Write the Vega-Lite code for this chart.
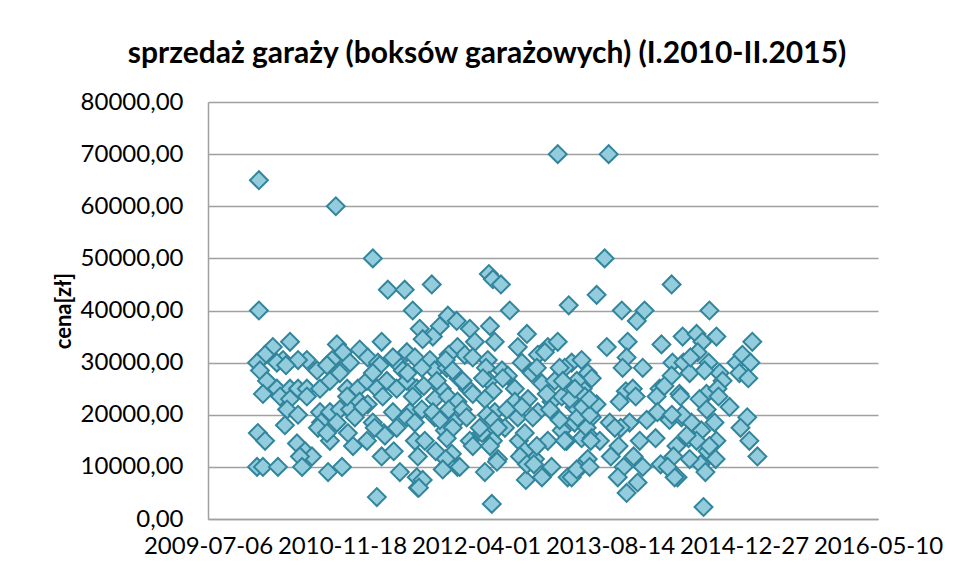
{
"$schema": "https://vega.github.io/schema/vega-lite/v6.json",
"width": 670,
"height": 417,
"autosize": {"type": "none"},
"padding": {"left": 208, "top": 102, "right": 79, "bottom": 60},
"background": "white",
"title": {"text": "sprzedaż garaży (boksów garażowych)  (I.2010-II.2015)", "font": "Lato", "fontSize": 30, "fontWeight": "bold", "color": "#000000", "anchor": "middle", "frame": "group", "dx": -56, "offset": 21},
"config": {"view": {"stroke": null}},
"data": {"values": [
{"data":"2010-01-12","cena":65000},{"data":"2010-10-26","cena":60000},{"data":"2011-03-13","cena":50000},{"data":"2013-01-31","cena":70000},{"data":"2013-08-09","cena":70000},{"data":"2013-07-25","cena":50000},{"data":"2011-05-08","cena":44000},{"data":"2011-07-10","cena":44000},{"data":"2011-10-19","cena":45000},{"data":"2012-05-19","cena":47000},{"data":"2012-06-03","cena":46000},{"data":"2012-07-03","cena":45000},{"data":"2014-04-01","cena":45000},{"data":"2013-06-25","cena":43000},
{"data":"2010-01-12","cena":40000},{"data":"2011-08-09","cena":40000},{"data":"2010-05-08","cena":34000},{"data":"2010-03-05","cena":33000},{"data":"2010-02-04","cena":31500},{"data":"2010-01-05","cena":30000},{"data":"2010-10-30","cena":33500},{"data":"2010-11-22","cena":32000},{"data":"2011-01-23","cena":32500},{"data":"2011-04-15","cena":34000},{"data":"2011-07-18","cena":32000},{"data":"2011-08-17","cena":31000},{"data":"2011-09-04","cena":36500},{"data":"2010-10-04","cena":30000},{"data":"2010-08-17","cena":28500},{"data":"2010-07-10","cena":30500},{"data":"2010-04-12","cena":30500},{"data":"2010-06-07","cena":30500},{"data":"2011-02-22","cena":31000},{"data":"2011-04-01","cena":30000},{"data":"2011-06-10","cena":30000},{"data":"2011-07-03","cena":28500},{"data":"2010-01-16","cena":28500},{"data":"2010-02-11","cena":26500},{"data":"2010-03-20","cena":25000},{"data":"2010-05-08","cena":25000},{"data":"2010-06-07","cena":25000},{"data":"2010-07-10","cena":25000},{"data":"2010-08-28","cena":25000},{"data":"2010-10-04","cena":26500},{"data":"2010-11-10","cena":28000},{"data":"2010-12-07","cena":25000},{"data":"2011-01-16","cena":25000},{"data":"2011-02-19","cena":26500},{"data":"2011-03-28","cena":25000},{"data":"2011-05-04","cena":26500},{"data":"2011-06-10","cena":25000},{"data":"2011-07-18","cena":26500},{"data":"2011-08-24","cena":25000},{"data":"2010-03-20","cena":30000},{"data":"2010-04-23","cena":29500},{"data":"2010-10-12","cena":30500},{"data":"2010-09-23","cena":29500},{"data":"2011-04-08","cena":29500},{"data":"2011-03-13","cena":28000},{"data":"2011-05-27","cena":31000},{"data":"2010-12-18","cena":30000},
{"data":"2010-01-27","cena":24000},{"data":"2010-04-01","cena":23500},{"data":"2010-05-08","cena":23000},{"data":"2010-07-10","cena":23500},{"data":"2010-04-27","cena":21000},{"data":"2010-06-07","cena":20000},{"data":"2010-04-19","cena":18000},{"data":"2010-01-08","cena":16500},{"data":"2010-02-04","cena":15000},{"data":"2010-06-03","cena":14500},{"data":"2010-07-03","cena":13000},{"data":"2010-07-29","cena":12000},{"data":"2010-06-14","cena":12000},{"data":"2010-06-22","cena":10000},{"data":"2010-01-05","cena":10000},{"data":"2010-01-27","cena":10000},{"data":"2010-03-24","cena":10000},{"data":"2010-09-27","cena":9000},{"data":"2010-11-18","cena":10000},{"data":"2010-08-28","cena":20500},{"data":"2010-09-01","cena":18500},{"data":"2010-10-04","cena":20500},{"data":"2010-11-10","cena":21000},{"data":"2010-10-30","cena":18500},{"data":"2010-10-04","cena":15000},{"data":"2010-12-29","cena":14000},{"data":"2010-12-18","cena":21000},{"data":"2010-12-07","cena":23500},{"data":"2011-01-23","cena":22500},{"data":"2011-02-22","cena":22000},{"data":"2011-03-13","cena":18500},{"data":"2011-02-19","cena":15000},{"data":"2011-04-19","cena":23500},{"data":"2011-04-23","cena":16500},{"data":"2011-05-27","cena":20500},{"data":"2011-06-10","cena":17500},{"data":"2011-04-15","cena":12000},{"data":"2011-05-30","cena":13000},{"data":"2011-06-22","cena":9000},{"data":"2011-03-28","cena":4200},{"data":"2011-07-29","cena":20500},{"data":"2011-08-09","cena":23500},{"data":"2011-08-17","cena":15000},{"data":"2011-08-24","cena":8000},{"data":"2011-08-28","cena":6000},{"data":"2010-08-20","cena":17500},{"data":"2010-09-23","cena":16500},{"data":"2011-01-05","cena":19500},{"data":"2010-12-10","cena":16500},{"data":"2011-02-04","cena":21500},{"data":"2011-03-20","cena":17500},{"data":"2011-04-27","cena":16000},{"data":"2011-07-18","cena":19500},
{"data":"2012-08-05","cena":40000},{"data":"2013-03-13","cena":41000},{"data":"2011-12-18","cena":39000},{"data":"2012-01-20","cena":38000},{"data":"2011-11-18","cena":37000},{"data":"2011-10-23","cena":35000},{"data":"2011-09-15","cena":34500},{"data":"2012-03-09","cena":36500},{"data":"2012-05-23","cena":37000},{"data":"2012-06-10","cena":34000},{"data":"2012-03-28","cena":34000},{"data":"2012-01-23","cena":33000},{"data":"2012-02-19","cena":31500},{"data":"2011-12-21","cena":31500},{"data":"2011-10-12","cena":30500},{"data":"2012-03-20","cena":31000},{"data":"2012-05-15","cena":30500},{"data":"2012-10-08","cena":35500},{"data":"2012-09-04","cena":33000},{"data":"2012-12-25","cena":33000},{"data":"2013-01-31","cena":34000},{"data":"2012-11-18","cena":31500},{"data":"2012-12-14","cena":32000},{"data":"2012-09-19","cena":30000},{"data":"2012-10-26","cena":28000},{"data":"2013-03-24","cena":30000},{"data":"2013-04-30","cena":30500},{"data":"2013-02-26","cena":29000},{"data":"2013-05-23","cena":28000},{"data":"2011-10-30","cena":28500},{"data":"2011-12-14","cena":29000},{"data":"2012-01-27","cena":27000},{"data":"2012-05-08","cena":29000},{"data":"2012-07-07","cena":28500},{"data":"2012-07-29","cena":27500},{"data":"2012-12-03","cena":26000},{"data":"2013-01-20","cena":26500},{"data":"2013-05-04","cena":25000},{"data":"2011-09-19","cena":25500},{"data":"2011-11-25","cena":25000},{"data":"2012-03-02","cena":25000},{"data":"2012-05-19","cena":26500},{"data":"2012-08-24","cena":25000},{"data":"2013-06-07","cena":27000},{"data":"2011-11-07","cena":26500},{"data":"2012-02-11","cena":26500},{"data":"2012-03-13","cena":24500},{"data":"2012-04-27","cena":27000},{"data":"2012-06-03","cena":24500},{"data":"2012-07-10","cena":27000},{"data":"2012-11-14","cena":29000},{"data":"2013-02-07","cena":29000},{"data":"2013-04-12","cena":26500},{"data":"2011-12-10","cena":30500},{"data":"2012-01-05","cena":28500},{"data":"2011-09-12","cena":29000},{"data":"2011-07-21","cena":28000},
{"data":"2011-10-30","cena":23000},{"data":"2011-12-18","cena":23500},{"data":"2012-01-23","cena":22500},{"data":"2012-03-20","cena":24000},{"data":"2012-05-04","cena":23000},{"data":"2012-06-10","cena":20500},{"data":"2012-08-24","cena":22500},{"data":"2012-10-12","cena":23000},{"data":"2012-11-18","cena":20500},{"data":"2013-01-08","cena":22500},{"data":"2013-02-15","cena":23500},{"data":"2013-04-04","cena":21500},{"data":"2013-05-12","cena":23500},{"data":"2013-06-07","cena":19500},{"data":"2011-09-12","cena":21000},{"data":"2011-08-17","cena":18500},{"data":"2011-10-30","cena":19500},{"data":"2011-12-07","cena":17000},{"data":"2012-01-12","cena":18500},{"data":"2012-03-09","cena":15000},{"data":"2011-09-23","cena":15000},{"data":"2011-11-03","cena":13000},{"data":"2011-08-28","cena":12000},{"data":"2012-01-02","cena":12500},{"data":"2012-01-23","cena":10000},{"data":"2011-12-18","cena":10500},{"data":"2011-09-15","cena":7500},{"data":"2011-09-01","cena":6000},{"data":"2012-05-04","cena":9000},{"data":"2012-06-22","cena":11500},{"data":"2012-06-03","cena":15000},{"data":"2012-04-23","cena":16500},{"data":"2012-07-18","cena":17500},{"data":"2012-09-04","cena":19500},{"data":"2012-09-08","cena":15000},{"data":"2012-09-30","cena":13000},{"data":"2012-11-07","cena":11500},{"data":"2012-10-04","cena":7500},{"data":"2012-12-03","cena":8000},{"data":"2013-01-08","cena":10000},{"data":"2012-12-25","cena":15000},{"data":"2013-02-15","cena":17000},{"data":"2013-04-04","cena":18500},{"data":"2013-04-30","cena":15500},{"data":"2013-03-09","cena":8000},{"data":"2013-04-27","cena":10000},{"data":"2013-05-23","cena":11500},{"data":"2012-05-30","cena":2900},{"data":"2011-10-23","cena":20500},{"data":"2011-11-18","cena":19000},{"data":"2011-12-21","cena":21000},{"data":"2012-01-05","cena":17500},{"data":"2011-12-14","cena":15500},{"data":"2011-12-10","cena":11500},{"data":"2011-11-29","cena":9500},{"data":"2012-01-31","cena":10000},{"data":"2012-02-11","cena":21000},{"data":"2012-02-26","cena":19500},{"data":"2012-03-20","cena":14000},{"data":"2012-04-15","cena":17500},{"data":"2012-05-12","cena":20000},{"data":"2012-06-03","cena":19000},{"data":"2012-06-22","cena":17500},{"data":"2012-05-23","cena":14000},{"data":"2012-06-18","cena":11000},{"data":"2012-07-25","cena":21000},{"data":"2012-09-19","cena":21500},{"data":"2012-09-30","cena":16500},{"data":"2012-09-12","cena":12000},{"data":"2012-10-08","cena":10500},{"data":"2012-10-30","cena":19500},{"data":"2012-11-14","cena":14000},{"data":"2012-11-03","cena":10500},{"data":"2012-12-21","cena":24000},{"data":"2013-01-02","cena":21000},{"data":"2013-02-07","cena":19000},{"data":"2013-03-05","cena":15000},{"data":"2013-03-24","cena":8000},{"data":"2013-04-12","cena":9500},{"data":"2013-04-15","cena":19500},{"data":"2013-05-04","cena":21500},{"data":"2013-05-19","cena":17500},{"data":"2013-06-07","cena":15500},
{"data":"2013-09-27","cena":40000},{"data":"2013-12-21","cena":40000},{"data":"2013-11-22","cena":38000},{"data":"2014-08-20","cena":40000},{"data":"2013-08-02","cena":33000},{"data":"2013-10-19","cena":34000},{"data":"2013-10-15","cena":31000},{"data":"2013-09-30","cena":29000},{"data":"2013-12-14","cena":29000},{"data":"2014-02-22","cena":33500},{"data":"2014-05-12","cena":35000},{"data":"2014-07-03","cena":35500},{"data":"2014-07-25","cena":34000},{"data":"2014-09-15","cena":35000},{"data":"2015-01-27","cena":34000},{"data":"2014-07-07","cena":32000},{"data":"2014-08-17","cena":30000},{"data":"2014-04-04","cena":30000},{"data":"2014-05-15","cena":30000},{"data":"2014-06-07","cena":28000},{"data":"2014-09-27","cena":28000},{"data":"2014-10-08","cena":26500},{"data":"2014-11-29","cena":30000},{"data":"2014-12-21","cena":31500},{"data":"2015-01-20","cena":30000},{"data":"2014-12-10","cena":28000},{"data":"2015-01-12","cena":27000},{"data":"2013-10-12","cena":24500},{"data":"2013-11-07","cena":25000},{"data":"2014-02-15","cena":25000},{"data":"2014-04-30","cena":24000},{"data":"2014-08-09","cena":24000},{"data":"2014-09-19","cena":25000},{"data":"2014-04-01","cena":27500},{"data":"2014-08-02","cena":28500},{"data":"2014-06-10","cena":31000},{"data":"2014-03-05","cena":25500},
{"data":"2013-09-19","cena":22500},{"data":"2013-11-18","cena":23500},{"data":"2014-02-04","cena":23500},{"data":"2014-05-04","cena":23500},{"data":"2014-07-14","cena":23000},{"data":"2014-09-23","cena":23500},{"data":"2014-11-03","cena":21500},{"data":"2015-01-08","cena":19500},{"data":"2015-01-16","cena":15000},{"data":"2015-02-15","cena":12000},{"data":"2014-02-07","cena":20500},{"data":"2014-03-24","cena":19000},{"data":"2014-05-08","cena":19500},{"data":"2013-12-29","cena":19000},{"data":"2013-10-26","cena":18500},{"data":"2013-09-23","cena":17500},{"data":"2013-08-13","cena":18500},{"data":"2013-07-07","cena":15000},{"data":"2013-09-15","cena":14000},{"data":"2013-12-03","cena":15000},{"data":"2014-01-31","cena":15500},{"data":"2014-04-19","cena":14000},{"data":"2014-06-03","cena":15500},{"data":"2014-07-21","cena":17000},{"data":"2014-09-15","cena":15000},{"data":"2014-08-13","cena":13000},{"data":"2014-09-12","cena":11500},{"data":"2014-07-18","cena":10500},{"data":"2014-06-07","cena":11500},{"data":"2014-04-08","cena":12000},{"data":"2014-04-23","cena":8000},{"data":"2014-02-19","cena":10500},{"data":"2013-12-14","cena":10000},{"data":"2013-11-10","cena":12000},{"data":"2013-10-04","cena":10000},{"data":"2013-08-17","cena":12000},{"data":"2013-09-12","cena":8000},{"data":"2013-11-25","cena":7000},{"data":"2013-10-15","cena":5000},{"data":"2014-08-05","cena":9000},{"data":"2014-06-14","cena":18500},{"data":"2013-05-30","cena":10000},{"data":"2013-06-03","cena":15000},{"data":"2014-07-29","cena":2300},{"data":"2014-12-14","cena":17500},{"data":"2014-08-10","cena":21000},{"data":"2014-09-08","cena":18500},{"data":"2014-08-20","cena":14000},{"data":"2014-07-03","cena":15000},{"data":"2014-05-27","cena":16000},{"data":"2014-04-12","cena":8000},{"data":"2014-03-17","cena":10000},{"data":"2014-05-10","cena":20000},{"data":"2014-04-02","cena":20000},{"data":"2013-09-01","cena":17500},{"data":"2013-05-31","cena":20000},{"data":"2013-02-26","cena":15000},{"data":"2013-03-17","cena":23000},{"data":"2013-02-19","cena":26500},{"data":"2013-04-05","cena":25000},{"data":"2013-06-25","cena":22000},{"data":"2013-05-29","cena":23000}
]},
"mark": {"type": "point", "shape": "diamond", "filled": true, "size": 320, "fill": "#93CDDD", "stroke": "#31859C", "strokeWidth": 2, "opacity": 1, "fillOpacity": 1, "strokeOpacity": 1},
"encoding": {
  "x": {"field": "data", "type": "temporal",
    "scale": {"type": "utc", "nice": false, "domain": [{"year": 2009, "month": 7, "date": 6, "utc": true}, {"year": 2016, "month": 5, "date": 10, "utc": true}]},
    "axis": {"title": null, "values": [{"year": 2009, "month": 7, "date": 6, "utc": true}, {"year": 2010, "month": 11, "date": 18, "utc": true}, {"year": 2012, "month": 4, "date": 1, "utc": true}, {"year": 2013, "month": 8, "date": 14, "utc": true}, {"year": 2014, "month": 12, "date": 27, "utc": true}, {"year": 2016, "month": 5, "date": 10, "utc": true}],
      "labelExpr": "utcFormat(datum.value, '%Y-%m-%d')", "labelFont": "Lato", "labelFontSize": 24, "labelColor": "#000000", "labelPadding": 15, "ticks": false, "tickSize": 0, "grid": false, "domainColor": "#A0A0A0", "domainWidth": 1.5, "labelOverlap": false, "labelFlush": false, "labelBound": false}},
  "y": {"field": "cena", "type": "quantitative",
    "scale": {"domain": [0, 80000], "nice": false},
    "axis": {"title": "cena[zł]", "titleFont": "Lato", "titleFontSize": 22, "titleFontWeight": "bold", "titleColor": "#000000", "titlePadding": 5,
      "values": [0, 10000, 20000, 30000, 40000, 50000, 60000, 70000, 80000],
      "labelExpr": "replace(format(datum.value, '.2f'), '.', ',')",
      "labelFont": "Lato", "labelFontSize": 24, "labelColor": "#000000", "labelPadding": 25, "ticks": false, "tickSize": 0,
      "grid": true, "gridColor": "#A0A0A0", "gridWidth": 1.5, "domainColor": "#A0A0A0", "domainWidth": 1.5, "labelOverlap": false}}
}
}
